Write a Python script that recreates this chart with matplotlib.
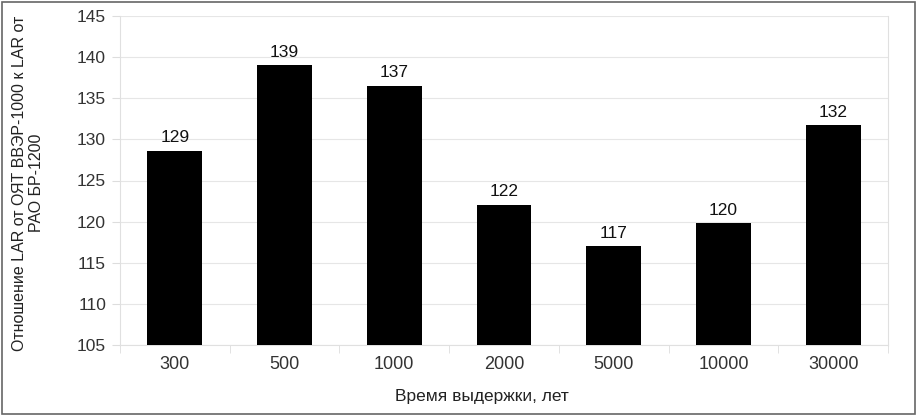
import matplotlib
matplotlib.use("Agg")
import matplotlib.pyplot as plt
from matplotlib.patches import Rectangle

plt.rcParams['font.family'] = ['Liberation Sans', 'DejaVu Sans']

categories = ["300", "500", "1000", "2000", "5000", "10000", "30000"]
values = [128.6, 139.0, 136.5, 122.0, 117.0, 119.8, 131.7]
labels = ["129", "139", "137", "122", "117", "120", "132"]
y_ticks = [105, 110, 115, 120, 125, 130, 135, 140, 145]

fig = plt.figure(figsize=(9.18, 4.16), dpi=100)
ax = fig.add_axes([120/918, 1-345/416, (888-120)/918, (345-16)/416])

x = list(range(len(categories)))
ax.bar(x, [v - 105 for v in values], bottom=105, width=0.5, color='black', zorder=3)
for xi, v, lab in zip(x, values, labels):
    ax.text(xi, v + 0.7, lab, ha='center', va='bottom', fontsize=12.5, color='#111111')

ax.set_xlim(-0.5, len(categories) - 0.5)
ax.set_ylim(105, 145)
ax.set_yticks(y_ticks)
ax.set_yticklabels([str(t) for t in y_ticks], fontsize=12.5, color='#333333')
ax.set_xticks(x)
ax.set_xticklabels(categories, fontsize=13, color='#333333')
ax.set_xticks([i + 0.5 for i in range(-1, len(categories))], minor=True)
ax.tick_params(axis='x', which='major', length=0, pad=8)
ax.tick_params(axis='x', which='minor', length=6, color='#dddddd', direction='out')
ax.tick_params(axis='y', length=6, color='#dddddd', pad=4)
ax.grid(axis='y', color='#e6e6e6', linewidth=0.8, zorder=0)
for s in ['top']:
    ax.spines[s].set_visible(False)
for s in ['left', 'right', 'bottom']:
    ax.spines[s].set_color('#e0e0e0')
    ax.spines[s].set_linewidth(0.8)

fig.text(482/918, 1-397/416, "Время выдержки, лет", ha='center', va='center', fontsize=12.5, color='#222222')
fig.text(28/918, 1-183/416, "Отношение LAR от ОЯТ ВВЭР-1000 к LAR от\nРАО БР-1200", ha='center', va='center',
         rotation=90, fontsize=11.5, color='#222222', linespacing=1.1)

fig.patches.append(Rectangle((2/918, 2/416), 913/918, 412/416, transform=fig.transFigure,
                             fill=False, edgecolor='#666666', linewidth=1.2))

fig.savefig("out.png", dpi=100)
